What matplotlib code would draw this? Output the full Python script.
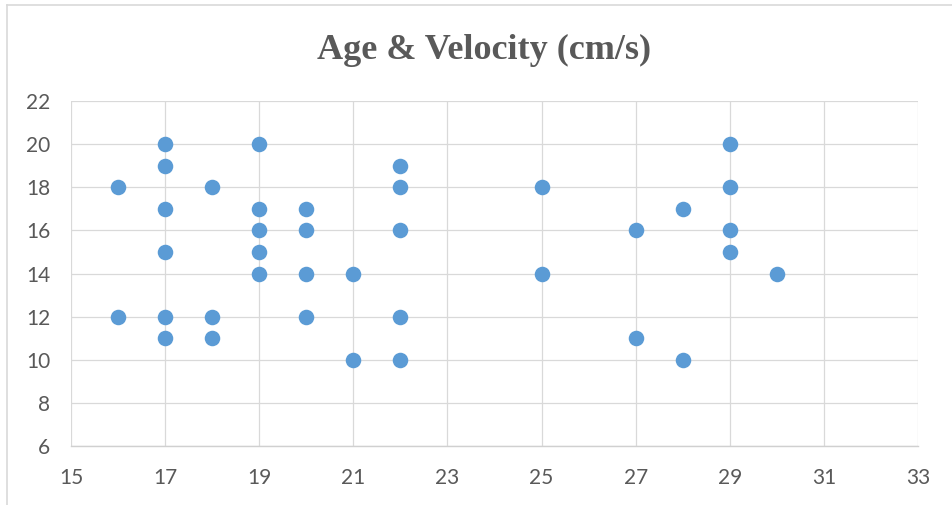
import matplotlib
matplotlib.use("Agg")
import matplotlib.pyplot as plt
from matplotlib.lines import Line2D

age = [16, 16,
       17, 17, 17, 17, 17, 17,
       18, 18, 18,
       19, 19, 19, 19, 19,
       20, 20, 20, 20,
       21, 21,
       22, 22, 22, 22, 22,
       25, 25,
       27, 27,
       28, 28,
       29, 29, 29, 29,
       30]
velocity = [18, 12,
            20, 19, 17, 15, 12, 11,
            18, 12, 11,
            20, 17, 16, 15, 14,
            17, 16, 14, 12,
            14, 10,
            19, 18, 16, 12, 10,
            18, 14,
            16, 11,
            17, 10,
            20, 18, 16, 15,
            14]
title = "Age & Velocity (cm/s)"
xticks = list(range(15, 34, 2))
yticks = list(range(6, 23, 2))

W, H = 953, 505
fig = plt.figure(figsize=(W / 100, H / 100), dpi=100)
ax = fig.add_axes([71 / W, 1 - 446 / H, (918 - 71) / W, (446 - 101) / H])

ax.scatter(age, velocity, s=125, color="#5B9BD5", zorder=3, linewidths=0)
ax.set_xlim(15, 33)
ax.set_ylim(6, 22)
ax.set_xticks(xticks)
ax.set_yticks(yticks)
ax.grid(True, color="#D9D9D9", linewidth=0.9, zorder=0)
for s in ["top", "right", "left"]:
    ax.spines[s].set_visible(False)
ax.spines["bottom"].set_color("#D0D0D0")
ax.spines["bottom"].set_linewidth(1.0)
ax.tick_params(length=0, labelcolor="#595959", labelsize=15)
ax.tick_params(axis="x", pad=16)
ax.tick_params(axis="y", pad=15)
fam = ["Lato", "DejaVu Sans"]
for lab in ax.get_xticklabels() + ax.get_yticklabels():
    lab.set_family(fam)

fig.text(484 / W, 1 - 50 / H, title, ha="center", va="center",
         fontsize=26, fontweight="bold", color="#595959",
         family=["Liberation Serif", "DejaVu Serif"])

fig.add_artist(Line2D([7 / W, 7 / W], [0, 1 - 5 / H], color="#D9D9D9", lw=1.2, transform=fig.transFigure))
fig.add_artist(Line2D([7 / W, 1], [1 - 5 / H, 1 - 5 / H], color="#D9D9D9", lw=1.2, transform=fig.transFigure))

fig.savefig("out.png", dpi=100)
